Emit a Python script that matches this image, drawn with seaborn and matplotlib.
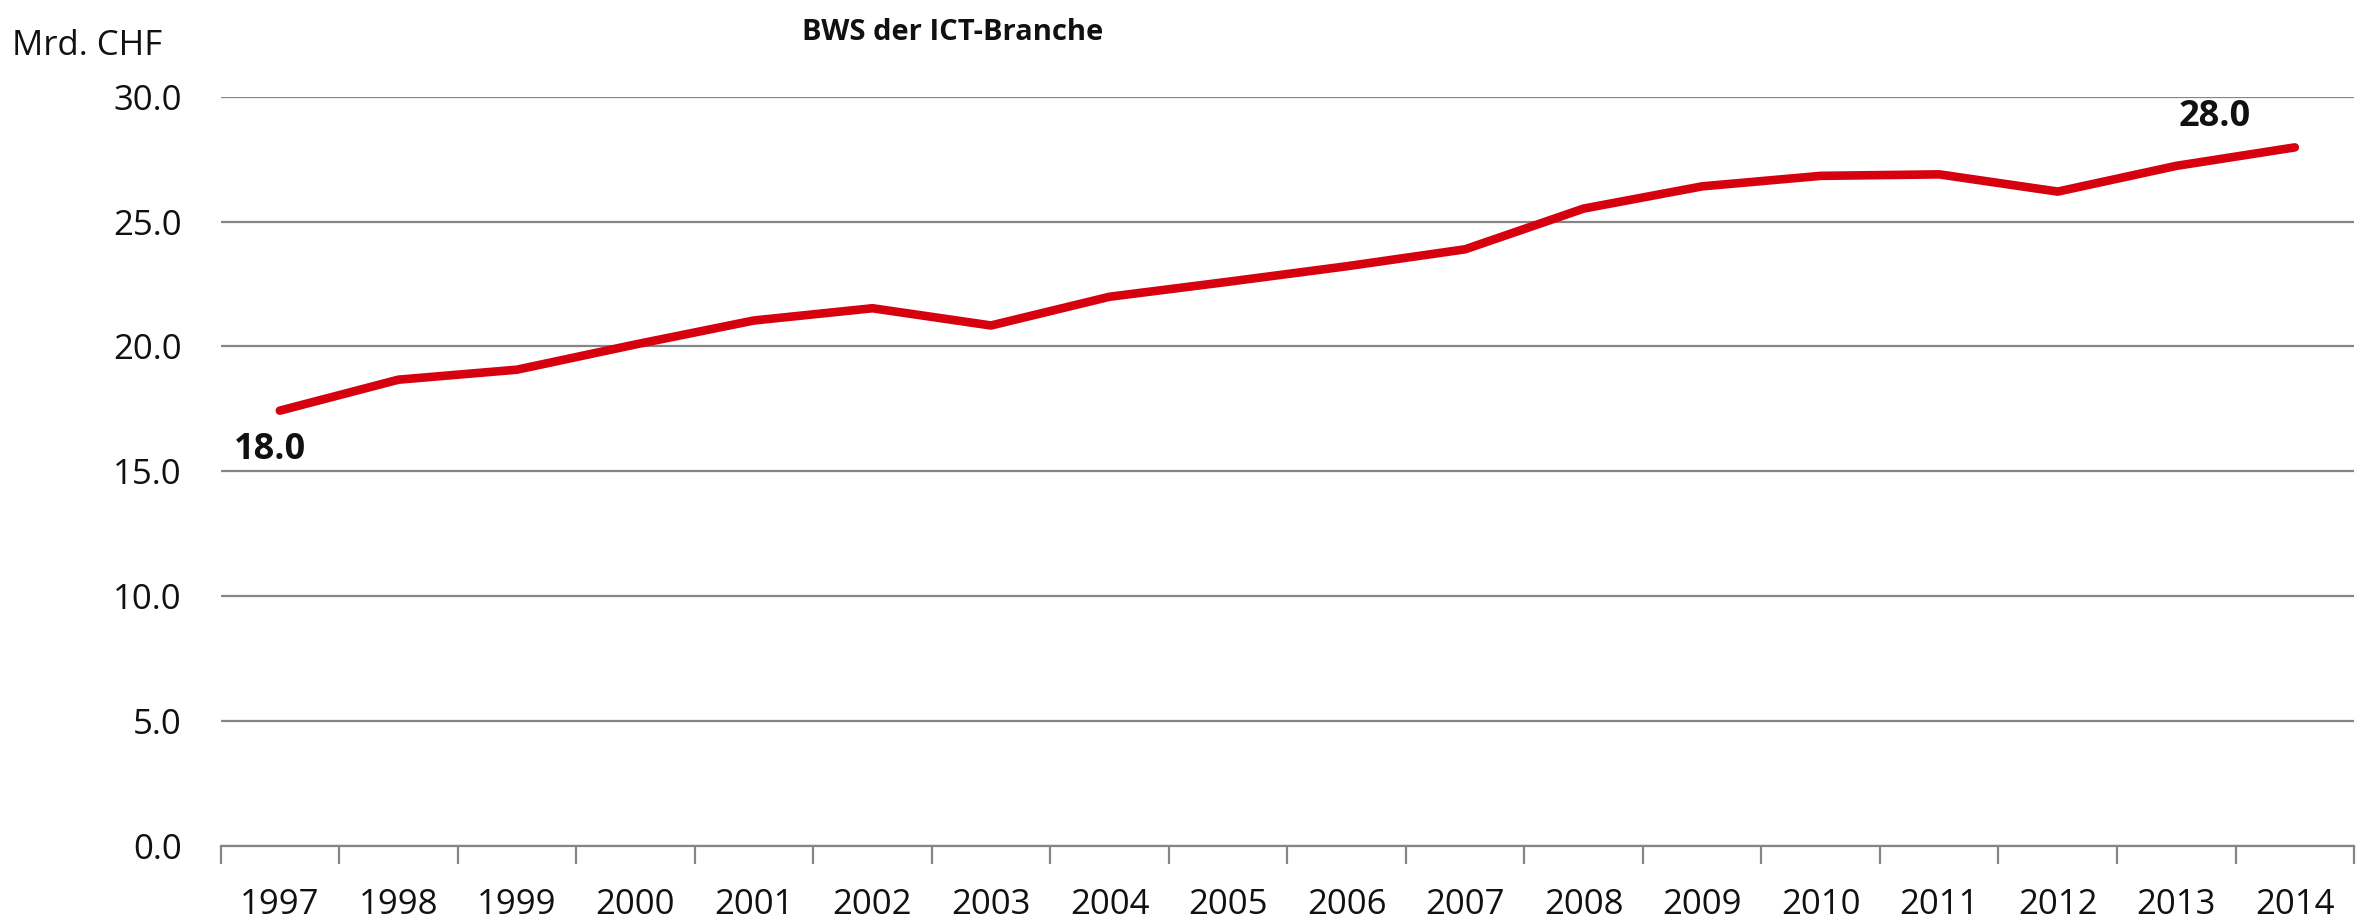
import numpy as np
import pandas as pd
import matplotlib
matplotlib.use("Agg")
import matplotlib.pyplot as plt
import seaborn as sns

# data
years = [str(y) for y in range(1997, 2015)]
bws = [17.43, 18.67, 19.07, 20.08, 21.04, 21.53, 20.84, 21.99, 22.59,
       23.21, 23.89, 25.52, 26.41, 26.83, 26.89, 26.20, 27.23, 27.97]
label_years = ["1997", "2014"]
label_texts = ["18.0", "28.0"]
yticks = [0, 5, 10, 15, 20, 25, 30]

title = "BWS der ICT-Branche"
unit = "Mrd. CHF"

df = pd.DataFrame({"year": years, "bws": bws})

sns.set_theme(style="white")
plt.rcParams["font.family"] = ["Open Sans", "DejaVu Sans"]

fig = plt.figure(figsize=(23.69, 9.19), dpi=100)
ax = fig.add_axes([0.0931, 0.0794, 0.9006, 0.8154])

sns.lineplot(data=df, x="year", y="bws", ax=ax, color="#d7000f",
             linewidth=6.2, solid_capstyle="round", sort=False)

ax.set_xlim(-0.5, len(years) - 0.5)
ax.set_ylim(0, 30)
ax.set_yticks(yticks)
ax.set_yticklabels([f"{v:.1f}" for v in yticks])
ax.yaxis.grid(True, color="#858585", linewidth=1.6)
ax.set_axisbelow(True)

for side in ["top", "right", "left"]:
    ax.spines[side].set_visible(False)
ax.spines["bottom"].set_color("#858585")
ax.spines["bottom"].set_linewidth(1.6)

# category boundary ticks
ax.set_xticks(np.arange(-0.5, len(years), 1), minor=True)
ax.tick_params(axis="x", which="minor", length=13, width=1.6,
               color="#858585", direction="out", bottom=True)
ax.tick_params(axis="x", which="major", length=0, pad=30,
               labelsize=25, labelcolor="#111111")
ax.tick_params(axis="y", length=0, pad=28, labelsize=25, labelcolor="#111111")
ax.set_xlabel("")
ax.set_ylabel("")

# data labels
offsets = [(-7, -28), (-58, 22)]
for yr, txt, off in zip(label_years, label_texts, offsets):
    val = bws[years.index(yr)]
    ax.annotate(txt, xy=(years.index(yr), val), xytext=off,
                textcoords="offset points", ha="center", va="center",
                fontsize=26, fontweight="bold", color="#111111")

fig.text(0.402, 0.965, title, ha="center", va="center",
         fontsize=21, fontweight="bold", color="#111111")
fig.text(0.005, 0.95, unit, ha="left", va="center",
         fontsize=25, color="#111111")

fig.savefig("out.png", dpi=100)
